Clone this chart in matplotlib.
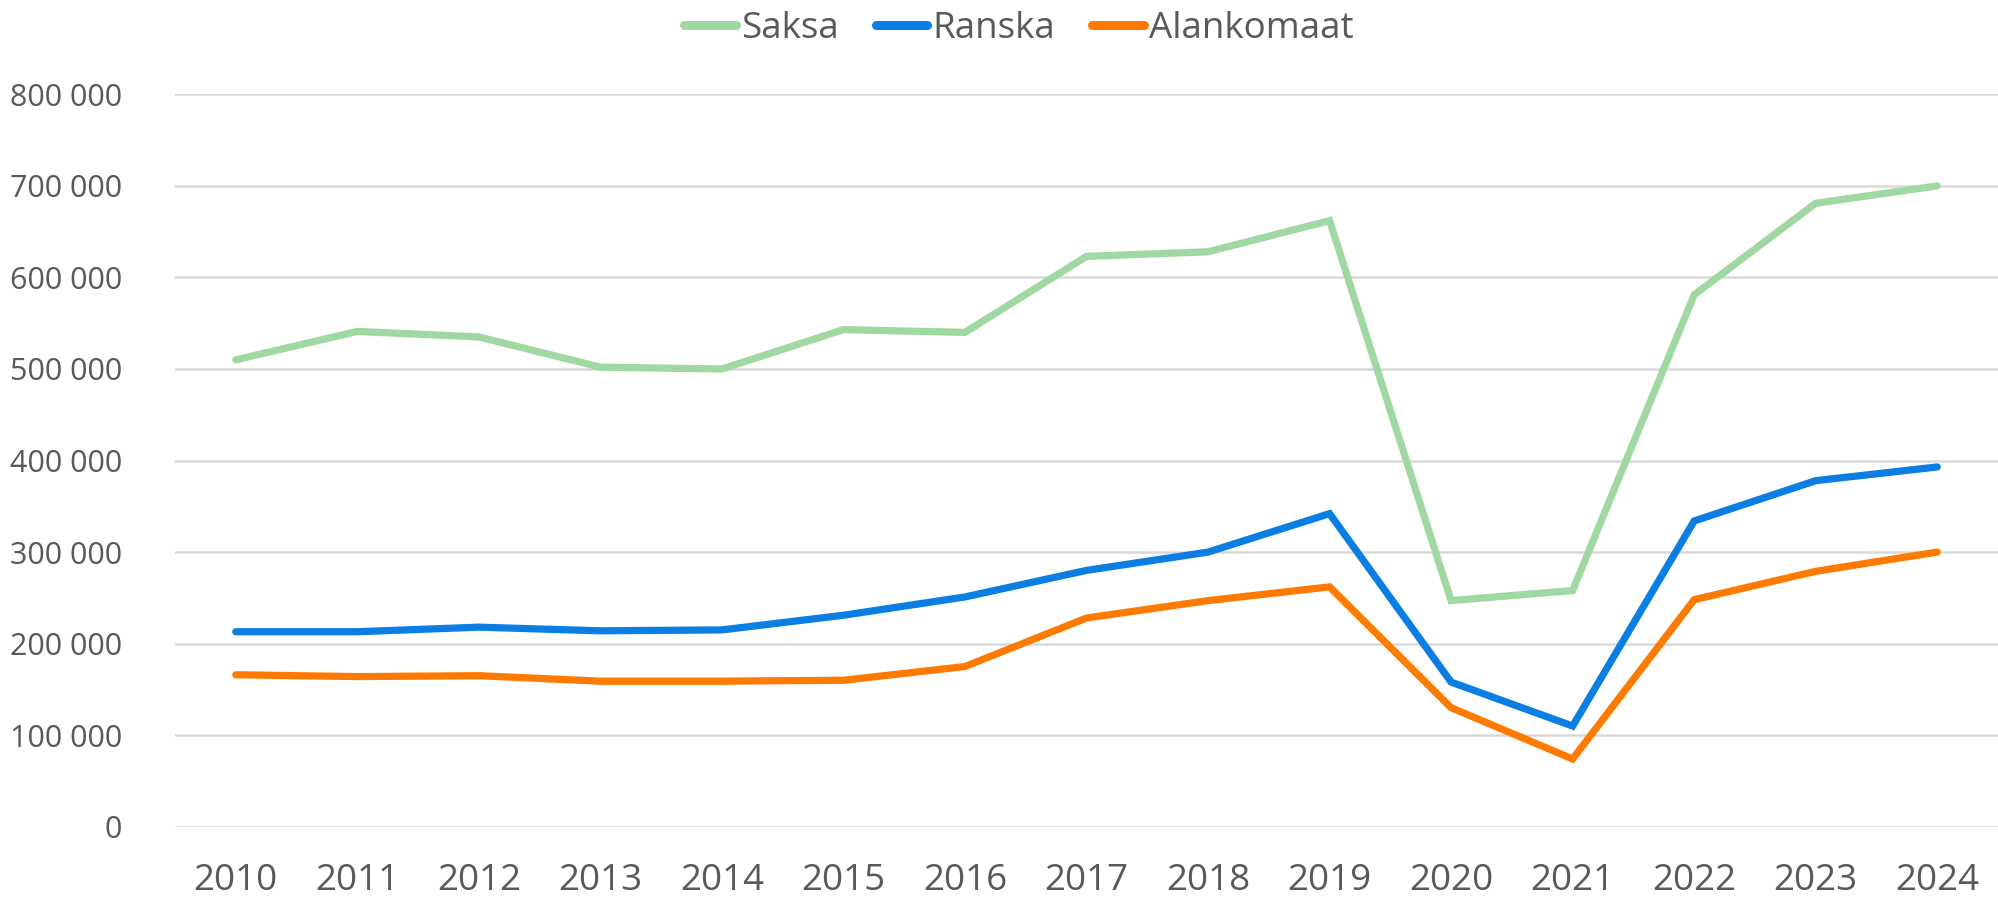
import matplotlib
matplotlib.use("Agg")
import matplotlib.pyplot as plt
from matplotlib.ticker import FuncFormatter, MultipleLocator

years = [2010, 2011, 2012, 2013, 2014, 2015, 2016, 2017, 2018, 2019, 2020, 2021, 2022, 2023, 2024]
saksa = [510000, 541000, 535000, 502000, 500000, 543000, 540000, 623000, 628000, 662000, 247000, 258000, 581000, 681000, 700000]
ranska = [213000, 213000, 218000, 214000, 215000, 231000, 251000, 280000, 300000, 342000, 158000, 110000, 334000, 378000, 393000]
alankomaat = [166000, 164000, 165000, 159000, 159000, 160000, 175000, 228000, 247000, 262000, 130000, 74000, 248000, 279000, 300000]
series_names = ["Saksa", "Ranska", "Alankomaat"]
colors = ["#A0D8A2", "#0A7EE2", "#FF7A00"]

plt.rcParams['font.family'] = ['Open Sans', 'DejaVu Sans']
text_color = "#595959"

fig = plt.figure(figsize=(19.98, 9.0), dpi=100)
ax = fig.add_axes([0.0876, 0.0814, 0.9124, 0.8138])

x = list(range(len(years)))
for vals, name, c in zip([saksa, ranska, alankomaat], series_names, colors):
    ax.plot(x, vals, color=c, lw=5.2, label=name, solid_capstyle='round', solid_joinstyle='miter')

ax.set_xlim(-0.5, len(years) - 0.5)
ax.set_ylim(0, 800000)
ax.yaxis.set_major_locator(MultipleLocator(100000))
ax.yaxis.set_major_formatter(FuncFormatter(lambda v, p: f"{int(v):,}".replace(",", " ")))
ax.set_xticks(x)
ax.set_xticklabels([str(y) for y in years])
ax.grid(axis='y', color="#D9D9D9", lw=1.8)
ax.set_axisbelow(True)
for s in ax.spines.values():
    s.set_visible(False)
ax.tick_params(axis='both', length=0, colors=text_color)
ax.tick_params(axis='y', labelsize=22, pad=38)
ax.tick_params(axis='x', labelsize=26.5, pad=26)

leg = fig.legend(loc='upper center', bbox_to_anchor=(0.51, 1.025), ncol=3, frameon=False,
                 fontsize=26.5, handlelength=1.4, handletextpad=0.15, columnspacing=1.0)
for t in leg.get_texts():
    t.set_color(text_color)
for h in leg.legend_handles:
    h.set_linewidth(6.5)
    h.set_solid_capstyle('round')

fig.savefig("out.png", dpi=100)
